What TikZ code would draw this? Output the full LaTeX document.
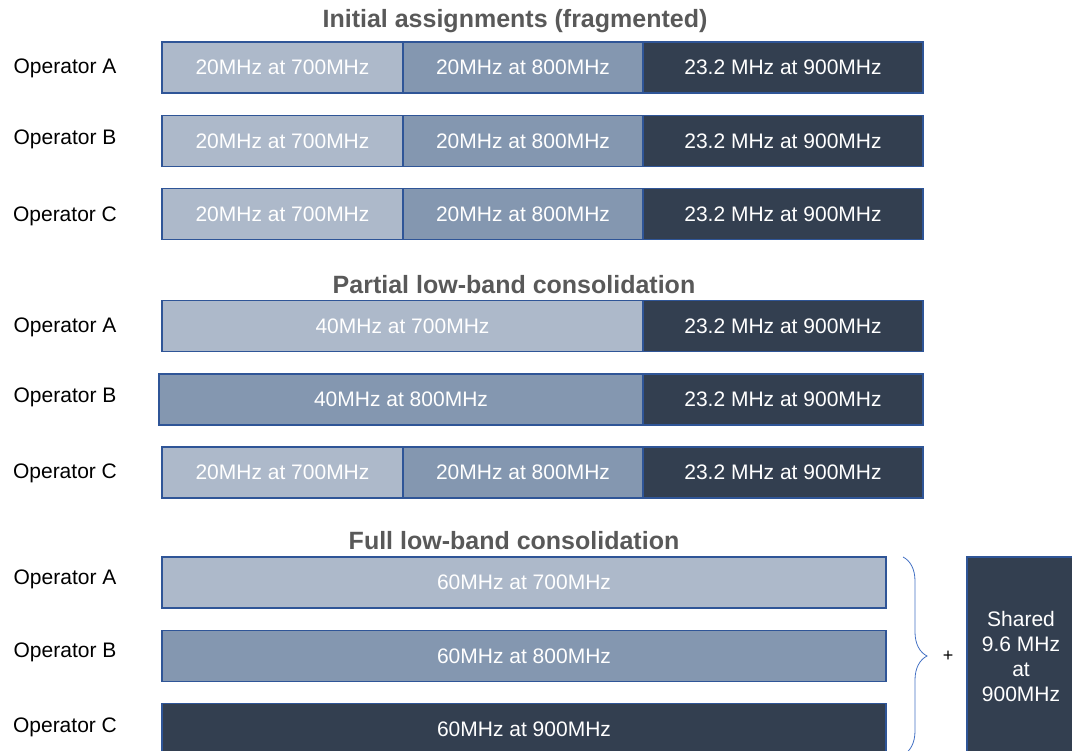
\documentclass[tikz,border=0pt]{standalone}
\usepackage{fontspec}
\setmainfont{Liberation Sans}
\usetikzlibrary{decorations.pathreplacing}

\definecolor{bandlight}{HTML}{ADB9CA}
\definecolor{bandmid}{HTML}{8497B0}
\definecolor{banddark}{HTML}{333F50}
\definecolor{bandedge}{HTML}{2F5597}
\definecolor{titlegray}{HTML}{595959}
\definecolor{bracecol}{HTML}{4472C4}

\begin{document}
\begin{tikzpicture}[x=1pt, y=-1pt,
    band/.style={draw=bandedge, line width=1.5pt, minimum height=51pt, inner sep=0pt,
        text=white, font=\fontsize{21}{25}\selectfont},
    oplabel/.style={font=\fontsize{21}{25}\selectfont},
    heading/.style={font=\bfseries\fontsize{25}{30}\selectfont, text=titlegray}]
    \clip (0,0) rectangle (1072,751);

    % Titulos
    \node[heading] (tinit) at (515,21) {Initial assignments (fragmented)};
    \node[heading] (tpart) at (514,285) {Partial low-band consolidation};
    \node[heading] (tfull) at (514,541) {Full low-band consolidation};

    % Operadores
    \foreach \y/\lab/\nm in {68/A/a1, 139/B/b1, 216/C/c1, 327/A/a2, 397/B/b2, 473/C/c2, 579/A/a3, 652/B/b3, 727/C/c3} {
        \node[oplabel] (op-\nm) at (65,\y) {Operator \lab};
    }

    % Bloques de 20MHz
    \foreach \y/\nm in {67.5/a1, 141/b1, 214/c1, 472.5/c2} {
        \node[band, fill=bandlight, minimum width=241pt] (\nm-l) at (282.5,\y) {20MHz at 700MHz};
        \node[band, fill=bandmid, minimum width=240pt] (\nm-m) at (523,\y) {20MHz at 800MHz};
    }

    % Bloques de 40MHz
    \node[band, fill=bandlight, minimum width=481pt] (a2-l) at (402.5,326) {40MHz at 700MHz};
    \node[band, fill=bandmid, minimum width=484pt] (b2-m) at (401,399.5) {40MHz at 800MHz};

    % Bloques de 900MHz
    \foreach \y/\nm in {67.5/a1, 141/b1, 214/c1, 326/a2, 399.5/b2, 472.5/c2} {
        \node[band, fill=banddark, minimum width=280pt] (\nm-d) at (783,\y) {23.2 MHz at 900MHz};
    }

    % Consolidacion completa
    \node[band, fill=bandlight, minimum width=724pt] (a3-l) at (524,582.5) {60MHz at 700MHz};
    \node[band, fill=bandmid, minimum width=724pt] (b3-m) at (524,656) {60MHz at 800MHz};
    \node[band, fill=banddark, minimum width=724pt] (c3-d) at (524,729) {60MHz at 900MHz};

    % Llave y bloque compartido
    \coordinate (bracetop) at (903,557);
    \coordinate (bracebot) at (903,755);
    \draw[bracecol, line width=0.8pt, decorate, decoration={brace, amplitude=24pt}] (bracetop) -- (bracebot);
    \node[oplabel, font=\fontsize{18}{22}\selectfont] (plus) at (948,656) {+};
    \node[band, fill=banddark, minimum width=108pt, minimum height=198pt, align=center] (shared) at (1021,656)
        {Shared\\9.6 MHz\\at\\900MHz};

\end{tikzpicture}
\end{document}
